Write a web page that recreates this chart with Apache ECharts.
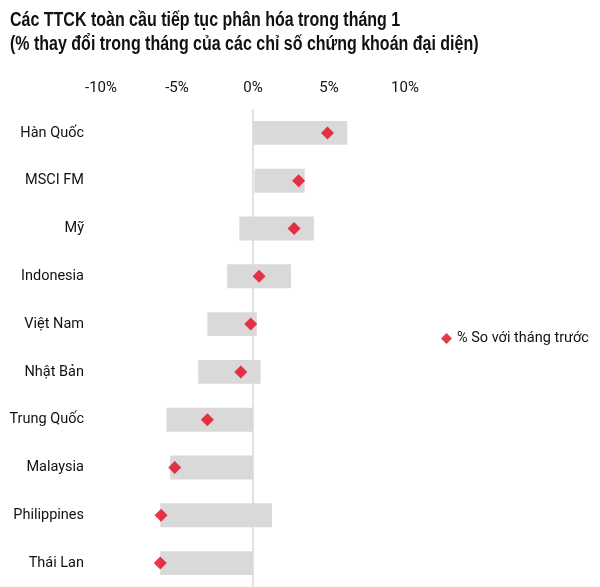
<!DOCTYPE html>
<html>
<head>
<meta charset="utf-8">
<script src="https://cdn.jsdelivr.net/npm/echarts@6/dist/echarts.min.js"></script>
<style>
html,body{margin:0;padding:0;background:#fff;}
#c{width:600px;height:587px;}
</style>
</head>
<body>
<div id="c"></div>
<script>
var categories = ['Hàn Quốc','MSCI FM','Mỹ','Indonesia','Việt Nam','Nhật Bản','Trung Quốc','Malaysia','Philippines','Thái Lan'];
var rangeLow  = [0.0, 0.1, -0.9, -1.7, -3.0, -3.6, -5.7, -5.45, -6.1, -6.1];
var rangeHigh = [6.2, 3.4, 4.0, 2.5, 0.25, 0.5, 0.0, 0.0, 1.25, 0.0];
var monthChange = [4.9, 3.0, 2.7, 0.4, -0.15, -0.8, -3.0, -5.15, -6.05, -6.1];
var xTicks = [-10, -5, 0, 5, 10];
var seriesName = '% So với tháng trước';
var titleLines = ['Các TTCK toàn cầu tiếp tục phân hóa trong tháng 1', '(% thay đổi trong tháng của các chỉ số chứng khoán đại diện)'];

var FONT = 'Roboto,"Liberation Sans",sans-serif';

var rangeData = categories.map(function(c, i){ return [rangeLow[i], rangeHigh[i], i]; });
var pointData = categories.map(function(c, i){ return [monthChange[i], c]; });

var chart = echarts.init(document.getElementById('c'));
chart.setOption({
  animation: false,
  backgroundColor: '#fff',
  textStyle: {fontFamily: FONT},
  graphic: [{
    type: 'text', left: 10, top: 8, scaleX: 0.8, scaleY: 1, originX: 0, silent: true,
    style: {
      text: titleLines.join('\n'),
      font: 'bold 20px "Liberation Sans", Arial, sans-serif',
      lineHeight: 24, fill: '#111'
    }
  }],
  legend: {
    data: [{name: seriesName, icon: 'diamond'}],
    left: 436, top: 326,
    itemWidth: 11, itemHeight: 11, itemGap: 6,
    textStyle: {fontFamily: FONT, fontSize: 14.5, color: '#111'}
  },
  grid: {left: 101, right: 195, top: 109, bottom: 0},
  xAxis: {
    type: 'value', position: 'top',
    min: xTicks[0], max: xTicks[xTicks.length - 1], interval: 5,
    axisLine: {show: false}, axisTick: {show: false}, splitLine: {show: false},
    axisLabel: {formatter: '{value}%', fontFamily: FONT, fontSize: 15, color: '#111', margin: 13}
  },
  yAxis: {
    type: 'category', data: categories, inverse: true,
    axisLine: {show: false}, axisTick: {show: false}, splitLine: {show: false},
    axisLabel: {fontFamily: FONT, fontSize: 14.5, color: '#111', margin: 17}
  },
  series: [
    {
      type: 'custom',
      name: 'range',
      data: rangeData,
      encode: {x: [0, 1], y: 2},
      z: 2,
      silent: true,
      renderItem: function(params, api){
        var s = api.coord([api.value(0), api.value(2)]);
        var e = api.coord([api.value(1), api.value(2)]);
        var h = api.size([0, 1])[1] * 0.5;
        return {type: 'rect', shape: {x: s[0], y: s[1] - h / 2, width: e[0] - s[0], height: h}, style: {fill: '#d9d9d9'}};
      }
    },
    {
      type: 'scatter',
      name: seriesName,
      data: pointData,
      symbol: 'diamond',
      symbolSize: 13,
      itemStyle: {color: '#e3061c'},
      z: 5,
      markLine: {
        silent: true, symbol: ['none', 'none'], label: {show: false},
        lineStyle: {color: '#d9d9d9', width: 1.5, type: 'solid'},
        data: [{xAxis: 0}]
      }
    }
  ]
});
</script>
</body>
</html>
